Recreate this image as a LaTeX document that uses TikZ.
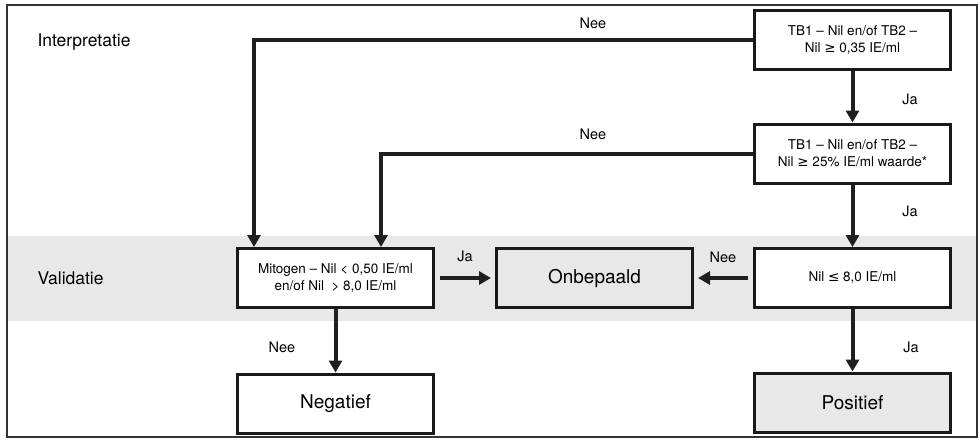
\documentclass[tikz,border=0pt]{standalone}
\usepackage{fontspec}
\setmainfont{TeX Gyre Heros}
\newfontfamily\symf{DejaVu Sans}
\usetikzlibrary{arrows.meta}
\newcommand{\mygeq}{{\symf ≥}}
\newcommand{\myleq}{{\symf ≤}}
\begin{document}
\begin{tikzpicture}[x=1pt,y=-1pt,
  box/.style={draw=black!90,fill=white,line width=3pt,minimum width=196pt,minimum height=59pt,align=center,font=\fontsize{13.5}{17}\selectfont,inner sep=0pt},
  greybox/.style={box,fill=black!9},
  big/.style={font=\fontsize{19}{22}\selectfont},
  lbl/.style={font=\fontsize{14.5}{17}\selectfont,fill=white,inner sep=1pt},
  sect/.style={font=\fontsize{17.5}{20}\selectfont,anchor=west},
  conn/.style={line width=4pt,draw=black!88,-{Triangle[width=13pt,length=12pt]}}]
\useasboundingbox (0,0) rectangle (979,440);
\fill[white] (0,0) rectangle (979,440);
\fill[black!9] (8,236) rectangle (976,321);
\draw[line width=2pt,draw=black!80] (7,4.5) rectangle (976.5,437);
\node[sect] (interp) at (34,42) {Interpretatie};
\node[sect] (valid) at (34,278) {Validatie};
\node[box] (tb1) at (852.5,40) {TB1 – Nil en/of TB2 –\\Nil \mygeq\ 0,35 IE/ml};
\node[box] (tb2) at (852.5,153.5) {TB1 – Nil en/of TB2 –\\Nil \mygeq\ 25\% IE/ml waarde*};
\node[box] (nil) at (852.5,278) {Nil \myleq\ 8,0 IE/ml};
\node[greybox,big] (onb) at (594.5,278) {Onbepaald};
\node[box] (mit) at (335.5,278) {Mitogen – Nil < 0,50 IE/ml\\en/of Nil \ > 8,0 IE/ml};
\node[box,big] (neg) at (335.5,403.5) {Negatief};
\node[greybox,big] (pos) at (852.5,402.5) {Positief};
\coordinate (c1) at (254,40);
\coordinate (c2) at (381,153.5);
\draw[conn] (tb1.west) -- (c1) -- (c1 |- mit.north);
\draw[conn] (tb2.west) -- (c2) -- (c2 |- mit.north);
\draw[conn] (tb1.south) -- (tb2.north);
\draw[conn] (tb2.south) -- (nil.north);
\draw[conn] ([xshift=-5pt]nil.west) -- ([xshift=4pt]onb.east);
\draw[conn] ([xshift=5pt]mit.east) -- ([xshift=-4pt]onb.west);
\draw[conn] (mit.south) -- (neg.north);
\draw[conn] (nil.south) -- (pos.north);
\node[lbl] (l1) at (593,23) {Nee};
\node[lbl] (l2) at (593,134) {Nee};
\node[lbl] (l3) at (910,99) {Ja};
\node[lbl] (l4) at (910,211) {Ja};
\node[lbl,fill=none] (l5) at (465,256) {Ja};
\node[lbl,fill=none] (l6) at (723,257) {Nee};
\node[lbl] (l7) at (282,347) {Nee};
\node[lbl] (l8) at (911,347) {Ja};
\end{tikzpicture}
\end{document}
